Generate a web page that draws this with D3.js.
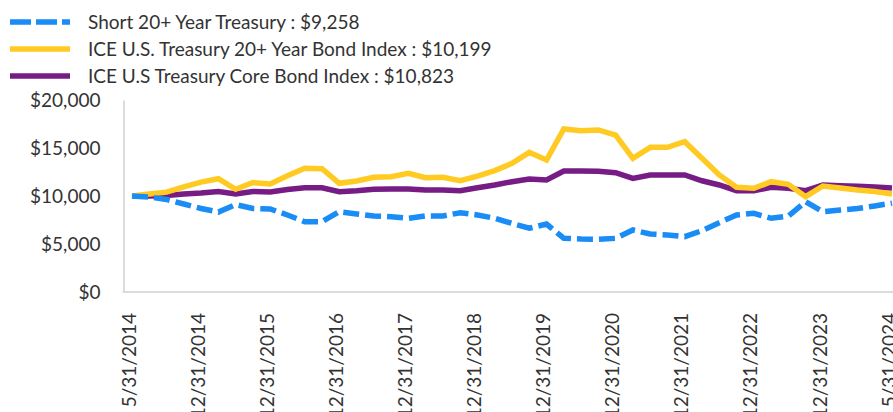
<!DOCTYPE html>
<html>
<head>
<meta charset="utf-8">
<script src="https://cdn.jsdelivr.net/npm/d3@7"></script>
<style>
  body { margin: 0; background: #fff; }
  text { font-family: Lato, "Open Sans", sans-serif; fill: #333; }
</style>
</head>
<body>
<div id="chart"></div>
<script>
// Tick labels shown every 4th point on the x axis
const tickLabels = ["5/31/2014", "12/31/2014", "12/31/2015", "12/31/2016", "12/31/2017", "12/31/2018",
    "12/31/2019", "12/31/2020", "12/31/2021", "12/31/2022", "12/31/2023", "5/31/2024"];
const tickEvery = 4;

// Growth of $10,000
const shortValues = [10000, 9900, 9640, 9170, 8700, 8330, 9110, 8700, 8650, 8020, 7320, 7320,
    8360, 8130, 7920, 7840, 7680, 7920, 7920, 8260, 8020, 7680, 7150, 6640, 7080, 5590, 5520, 5490,
    5590, 6460, 6040, 5940, 5760, 6390, 7220, 8020, 8200, 7680, 7920, 9410, 8360, 8540, 8700, 8960, 9258];
const treasury20Values = [10000, 10200, 10400, 10950, 11450, 11800, 10700, 11400, 11250, 12100, 12900, 12850,
    11320, 11560, 11950, 12010, 12370, 11900, 11950, 11590, 12080, 12640, 13400, 14550, 13750, 16980, 16800, 16880,
    16350, 13930, 15070, 15070, 15660, 13930, 12190, 10910, 10800, 11490, 11220, 9930, 11040, 10830, 10620, 10470, 10199];
const coreValues = [10000, 10000, 10050, 10210, 10310, 10470, 10210, 10470, 10420, 10680, 10860, 10860,
    10450, 10550, 10700, 10730, 10730, 10625, 10625, 10550, 10860, 11150, 11490, 11770, 11670, 12600, 12600, 12570,
    12430, 11840, 12190, 12190, 12190, 11590, 11150, 10550, 10550, 10900, 10800, 10550, 11150, 11070, 11010, 10940, 10823];

const seriesNames = ["Short 20+ Year Treasury : $9,258",
    "ICE U.S. Treasury 20+ Year Bond Index : $10,199",
    "ICE U.S Treasury Core Bond Index : $10,823"];
const yTicks = [0, 5000, 10000, 15000, 20000];

const width = 893, height = 412;
const fontSize = "19px";

const svg = d3.select("#chart")
    .append("svg")
    .attr("width", width)
    .attr("height", height);

const series = [
    { name: seriesNames[2], values: coreValues, color: "#761c84", dash: null },
    { name: seriesNames[1], values: treasury20Values, color: "#ffcb22", dash: null },
    { name: seriesNames[0], values: shortValues, color: "#1a8cf5", dash: "16,6" }
];

// Scales
const x = d3.scalePoint().domain(d3.range(shortValues.length)).range([132, 892]);
const y = d3.scaleLinear().domain([0, 20000]).range([292, 100]);

// Y axis
const yAxis = svg.append("g")
    .attr("transform", "translate(123.5,0)")
    .call(d3.axisLeft(y).tickValues(yTicks).tickSize(0).tickPadding(23)
        .tickFormat(d => "$" + d3.format(",")(d)));
yAxis.select(".domain").attr("stroke", "#dcdcdc").attr("stroke-width", 2);
yAxis.selectAll("text").style("font-size", fontSize).style("font-family", "Lato, sans-serif").attr("fill", "#333");

// X baseline
svg.append("line")
    .attr("x1", 122.5).attr("x2", width)
    .attr("y1", y(0)).attr("y2", y(0))
    .attr("stroke", "#dcdcdc").attr("stroke-width", 2);

// X tick labels
const tickIdx = tickLabels.map((d, i) => i * tickEvery);
const xAxis = svg.append("g")
    .attr("transform", `translate(0,${y(0)})`)
    .call(d3.axisBottom(x).tickValues(tickIdx).tickSize(0)
        .tickFormat((d, i) => tickLabels[i]));
xAxis.select(".domain").remove();
xAxis.selectAll("text")
    .style("font-size", fontSize)
    .style("font-family", "Lato, sans-serif")
    .attr("fill", "#333")
    .attr("text-anchor", "end")
    .attr("transform", "rotate(-90)")
    .attr("x", -21)
    .attr("y", -3.5)
    .attr("dy", "0.35em");

// Lines
const line = d3.line()
    .x((d, i) => x(i))
    .y(d => y(d));

series.forEach(s => {
    svg.append("path")
        .datum(s.values)
        .attr("fill", "none")
        .attr("stroke", s.color)
        .attr("stroke-width", 5.5)
        .attr("stroke-dasharray", s.dash)
        .attr("d", line);
});

// Legend
const legend = svg.append("g");
[series[2], series[1], series[0]].forEach((s, i) => {
    const row = legend.append("g").attr("transform", `translate(0,${22 + i * 27})`);
    row.append("line")
        .attr("x1", 10).attr("x2", 70)
        .attr("stroke", s.color)
        .attr("stroke-width", 5.5)
        .attr("stroke-dasharray", s.dash ? "21,5" : null);
    row.append("text")
        .attr("x", 88)
        .attr("dy", "0.35em")
        .style("font-size", fontSize)
        .text(s.name);
});
</script>
</body>
</html>
